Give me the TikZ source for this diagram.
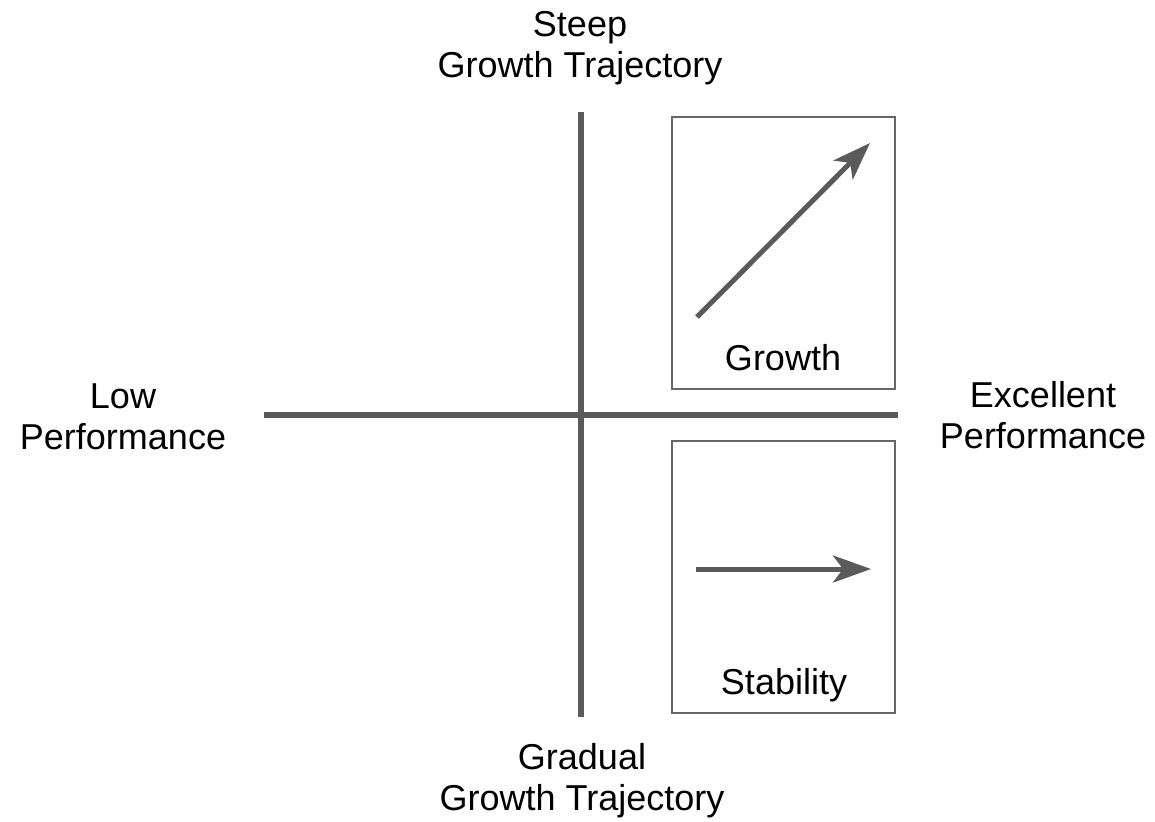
\documentclass[tikz,border=0pt]{standalone}
\usepackage{fontspec}
\setmainfont{Liberation Sans}
\usetikzlibrary{arrows.meta}
\definecolor{axisgray}{HTML}{5A5A5A}
\definecolor{panelgray}{HTML}{666666}

\begin{document}
\begin{tikzpicture}[
    x=0.5pt, y=-0.5pt,
    axis/.style = {draw=axisgray, line width=3pt},
    panel/.style = {draw=panelgray, line width=1pt, inner sep=0pt, minimum width=111.5pt, minimum height=136pt},
    trend/.style = {draw=axisgray, line width=2.5pt, -{Stealth[length=19pt, width=13.5pt, inset=5pt]}},
    axislabel/.style = {align=center, anchor=base, inner sep=0pt, font=\fontsize{18}{20.5}\selectfont},
    panellabel/.style = {anchor=base, inner sep=0pt, font=\fontsize{18}{20.5}\selectfont}
]
    \useasboundingbox (0,0) rectangle (1155,821);

    % --- Axes ---
    \coordinate (top) at (581,112);
    \coordinate (bottom) at (581,717);
    \coordinate (left) at (264,414.5);
    \coordinate (right) at (898,414.5);
    \draw[axis] (left) -- (right);
    \draw[axis] (top) -- (bottom);

    % --- Axis labels ---
    \node[axislabel] (steep) at (580,77) {Steep\\Growth Trajectory};
    \node[axislabel] (gradual) at (582,810) {Gradual\\Growth Trajectory};
    \node[axislabel] (low) at (123,449) {Low\\Performance};
    \node[axislabel] (excellent) at (1043,448) {Excellent\\Performance};

    % --- Growth quadrant ---
    \node[panel] (growthbox) at (783.5,253) {};
    \coordinate (g0) at (697,317);
    \coordinate (g1) at (870,143);
    \draw[trend] (g0) -- (g1);
    \node[panellabel] (growth) at (783,370) {Growth};

    % --- Stability quadrant ---
    \node[panel] (stabilitybox) at (783.5,577) {};
    \coordinate (s0) at (696,569);
    \coordinate (s1) at (871,569);
    \draw[trend] (s0) -- (s1);
    \node[panellabel] (stability) at (784,694) {Stability};

\end{tikzpicture}
\end{document}
